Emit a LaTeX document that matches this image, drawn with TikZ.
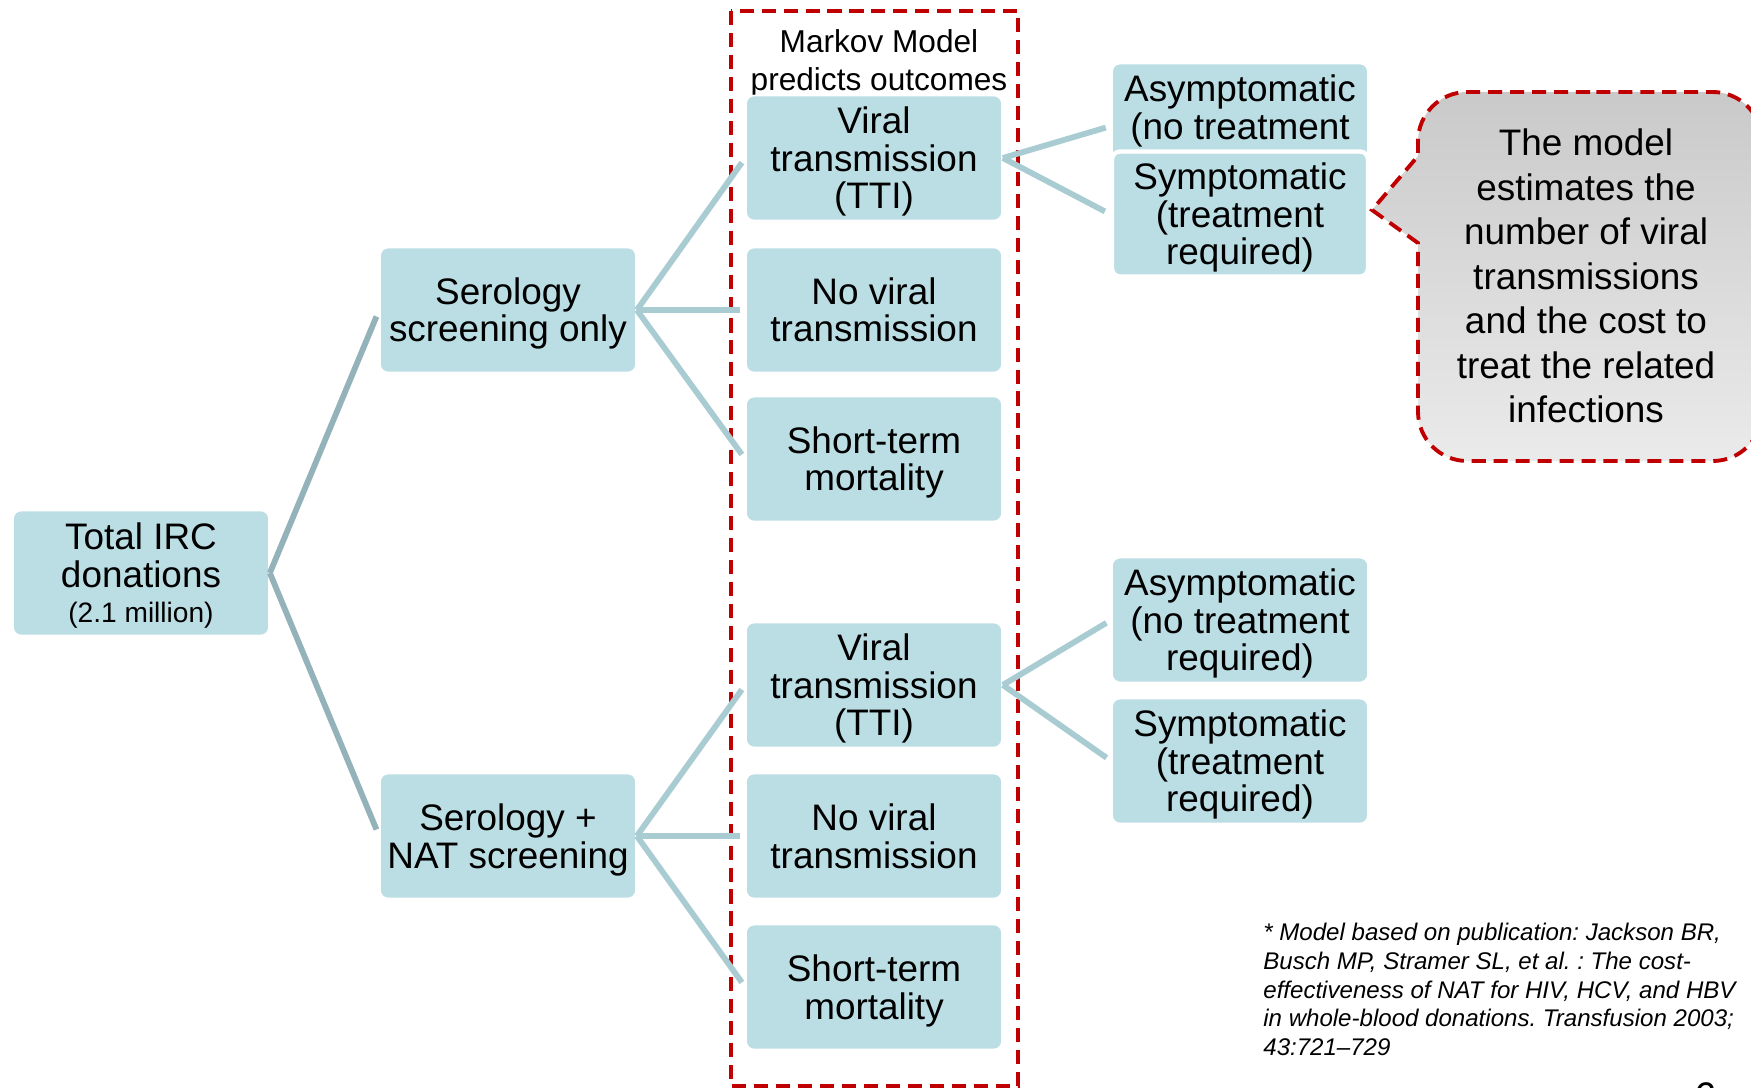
\documentclass[tikz,border=0pt]{standalone}
\usepackage{fontspec}
\setmainfont{Liberation Sans}
\usepackage{tikz}
\frenchspacing

\definecolor{boxblue}{HTML}{BBDEE4}
\definecolor{linkblue}{HTML}{A8CCD1}
\definecolor{linkgrey}{HTML}{94B2B9}
\definecolor{dashred}{HTML}{C00000}

\begin{document}
\begin{tikzpicture}[x=0.02cm, y=-0.02cm,
    box/.style={rectangle, rounded corners=4.5pt, fill=boxblue, draw=white, line width=1pt,
        minimum width=5.12cm, minimum height=2.5cm, inner sep=0pt, align=center,
        font=\fontsize{21}{21.6}\selectfont, text depth=0.4pt},
    link/.style={linkblue, line width=3.3pt, shorten >=3.2pt},
    rootlink/.style={linkgrey, line width=3.3pt, shorten >=4pt},
    reddash/.style={dashred, line width=2.2pt, dash pattern=on 8pt off 4.5pt}]
    \useasboundingbox (0,0) rectangle (1751,1088);

    % the Markov part of the tree
    \draw [reddash] (731,11) rectangle (1018,1086);
    \node [align=center, font=\fontsize{18}{21.5}\selectfont] (markov) at (879,63) {Markov Model\\predicts outcomes};

    \node [box] (irc) at (141,573) {Total IRC\\donations\\[-2pt]{\fontsize{16}{17}\selectfont (2.1 million)}};

    \node [box] (sero) at (508,310) {Serology\\screening only};
    \node [box] (nat) at (508,836) {Serology +\\NAT screening};

    \node [box] (tti1) at (874,158) {Viral\\transmission\\(TTI)};
    \node [box] (noviral1) at (874,310) {No viral\\transmission};
    \node [box] (mort1) at (874,459) {Short-term\\mortality};

    \node [box] (tti2) at (874,685) {Viral\\transmission\\(TTI)};
    \node [box] (noviral2) at (874,836) {No viral\\transmission};
    \node [box] (mort2) at (874,987) {Short-term\\mortality};

    % upper asymptomatic box lies half under the symptomatic one
    \node [box] (asym1) at (1240,126) {Asymptomatic\\(no treatment\\\mbox{}};
    \node [box, line width=2.5pt] (sym1) at (1240,214) {Symptomatic\\(treatment\\required)};

    \node [box] (asym2) at (1240,620) {Asymptomatic\\(no treatment\\required)};
    \node [box] (sym2) at (1240,761) {Symptomatic\\(treatment\\required)};

    \draw [rootlink] (irc.east) -- (sero.west);
    \draw [rootlink] (irc.east) -- (nat.west);

    \draw [link] (sero.east) -- (tti1.west);
    \draw [link] (sero.east) -- (noviral1.west);
    \draw [link] (sero.east) -- (mort1.west);
    \draw [link] (nat.east) -- (tti2.west);
    \draw [link] (nat.east) -- (noviral2.west);
    \draw [link] (nat.east) -- (mort2.west);

    \draw [link] (tti1.east) -- (asym1.west);
    \draw [link] (tti1.east) -- (sym1.west);
    \draw [link] (tti2.east) -- (asym2.west);
    \draw [link] (tti2.east) -- (sym2.west);

    % callout
    \draw [reddash, top color=black!21, bottom color=black!8]
        (1590,92) [rounded corners=28pt] -- (1418,92) [sharp corners] -- (1418,156) -- (1372,210)
        -- (1418,243) [rounded corners=28pt] -- (1418,461) -- (1762,461) -- (1762,92) -- (1590,92);
    \node [align=center, font=\fontsize{21}{25.3}\selectfont] (note) at (1586,276)
        {The model\\estimates the\\number of viral\\transmissions\\and the cost to\\treat the related\\infections};

    \node [anchor=north west, inner sep=0pt, align=left, font=\fontsize{13.7}{16.3}\selectfont\itshape] (ref) at (1263,923)
        {* Model based on publication: Jackson BR,\\Busch MP, Stramer SL, et al. : The cost-\\effectiveness of NAT for HIV, HCV, and HBV\\in whole-blood donations. Transfusion 2003;\\43:721--729};
    \node [anchor=north, inner sep=0pt, font=\fontsize{22.7}{24}\selectfont] (pagenum) at (1706,1082) {6};
\end{tikzpicture}
\end{document}
